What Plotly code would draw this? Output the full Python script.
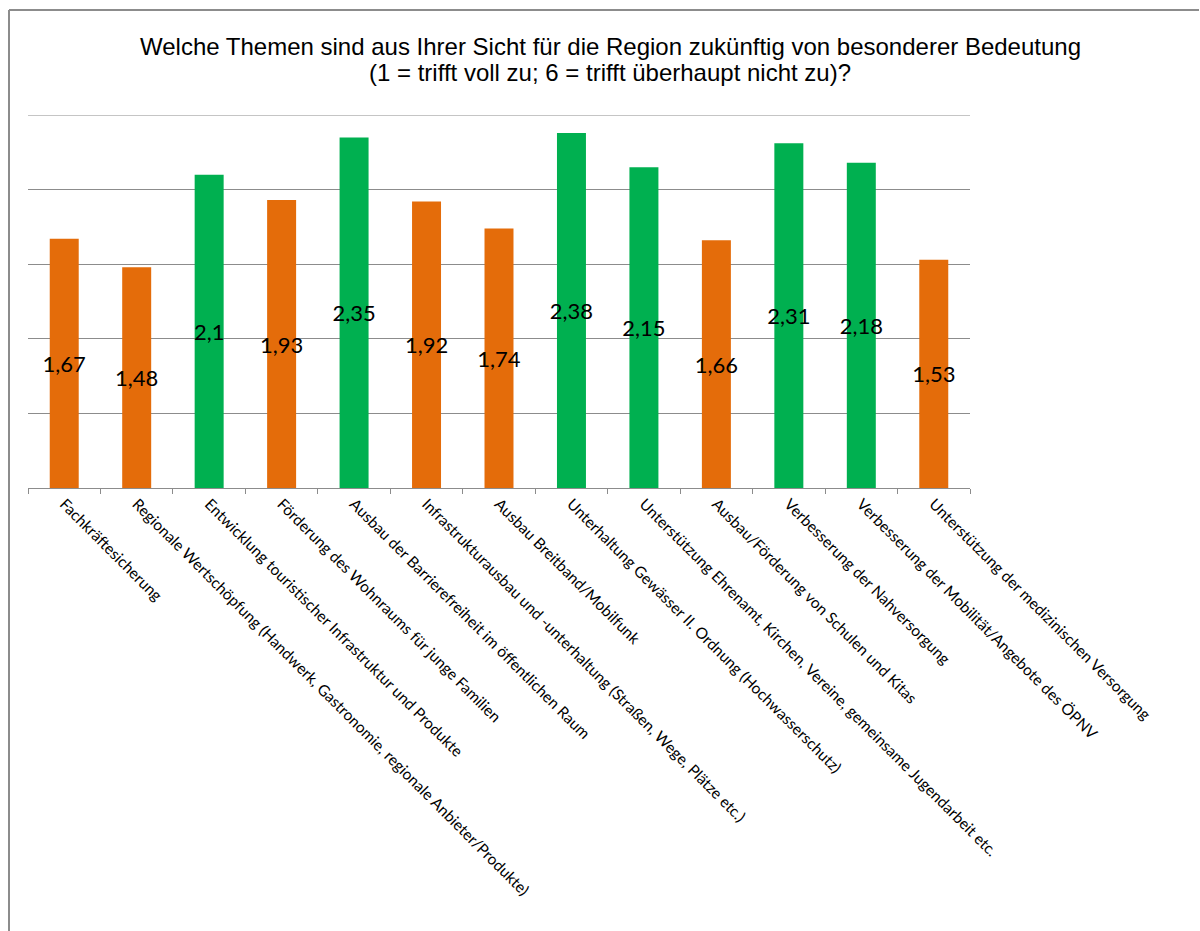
import plotly.graph_objects as go

categories = [
    "Fachkräftesicherung",
    "Regionale Wertschöpfung (Handwerk, Gastronomie, regionale Anbieter/Produkte)",
    "Entwicklung touristischer Infrastruktur und Produkte",
    "Förderung des Wohnraums für junge Familien",
    "Ausbau der Barrierefreiheit im öffentlichen Raum",
    "Infrastrukturausbau und -unterhaltung (Straßen, Wege, Plätze etc.)",
    "Ausbau Breitband/Mobilfunk",
    "Unterhaltung Gewässer II. Ordnung (Hochwasserschutz)",
    "Unterstützung Ehrenamt, Kirchen, Vereine, gemeinsame Jugendarbeit etc.",
    "Ausbau/Förderung von Schulen und Kitas",
    "Verbesserung der Nahversorgung",
    "Verbesserung der Mobilität/Angebote des ÖPNV",
    "Unterstützung der medizinischen Versorgung",
]
values = [1.67, 1.48, 2.1, 1.93, 2.35, 1.92, 1.74, 2.38, 2.15, 1.66, 2.31, 2.18, 1.53]
groups = ["o", "o", "g", "o", "g", "o", "o", "g", "g", "o", "g", "g", "o"]
y_max = 2.5
title_lines = [
    "Welche Themen sind aus Ihrer Sicht für die Region zukünftig von besonderer Bedeutung",
    "(1 = trifft voll zu; 6 = trifft überhaupt nicht zu)?",
]

ORANGE = "#E46C0A"
GREEN = "#00B050"
GRID = "#8C8C8C"
colors = [GREEN if g == "g" else ORANGE for g in groups]
labels = [f"{v:g}".replace(".", ",") for v in values]

W, H = 1200, 931
L, R, T, B = 28, 970, 115, 488

fig = go.Figure()
fig.add_trace(go.Bar(
    x=categories, y=values,
    marker=dict(color=colors, line=dict(width=0)),
    text=labels,
    textposition="inside",
    insidetextanchor="middle",
    textangle=0,
    constraintext="none",
    insidetextfont=dict(family="Lato", size=22, color="black"),
    hoverinfo="x+y",
))

def px_x(p):
    return (p - L) / (R - L)

def px_y(p):
    return (B - p) / (B - T)

border = dict(color="#8C8C8C", width=2)
shapes = [
    dict(type="line", xref="paper", yref="y", x0=0, x1=1, y0=y_max, y1=y_max,
         line=dict(color=GRID, width=1), layer="below"),
    dict(type="line", xref="paper", yref="paper", x0=px_x(9), x1=px_x(9),
         y0=px_y(935), y1=px_y(10), line=border, layer="above"),
    dict(type="line", xref="paper", yref="paper", x0=px_x(9), x1=px_x(1199),
         y0=px_y(10), y1=px_y(10), line=border, layer="above"),
]

title_font = dict(family="Liberation Sans, Arial", size=24, color="black")
annotations = [
    dict(text=title_lines[0], xref="paper", yref="paper", x=px_x(610), y=px_y(46),
         xanchor="center", yanchor="middle", showarrow=False, font=title_font),
    dict(text=title_lines[1], xref="paper", yref="paper", x=px_x(610), y=px_y(73),
         xanchor="center", yanchor="middle", showarrow=False, font=title_font),
]

fig.update_layout(
    width=W, height=H,
    margin=dict(l=L, r=W - R, t=T, b=H - B, pad=0),
    paper_bgcolor="white", plot_bgcolor="white",
    bargap=0.6,
    showlegend=False,
    xaxis=dict(
        tickangle=45,
        tickson="boundaries",
        ticks="outside", ticklen=5, tickcolor=GRID, tickwidth=1,
        showline=True, linecolor=GRID, linewidth=1,
        showgrid=False,
        tickfont=dict(family="Lato", size=15.5, color="black"),
        automargin=False,
    ),
    yaxis=dict(
        range=[0, y_max],
        dtick=0.5,
        showgrid=True, gridcolor=GRID, gridwidth=1,
        showticklabels=False, ticks="",
        zeroline=False, showline=False,
        automargin=False,
    ),
    shapes=shapes,
    annotations=annotations,
)

fig.write_html("out.html")
